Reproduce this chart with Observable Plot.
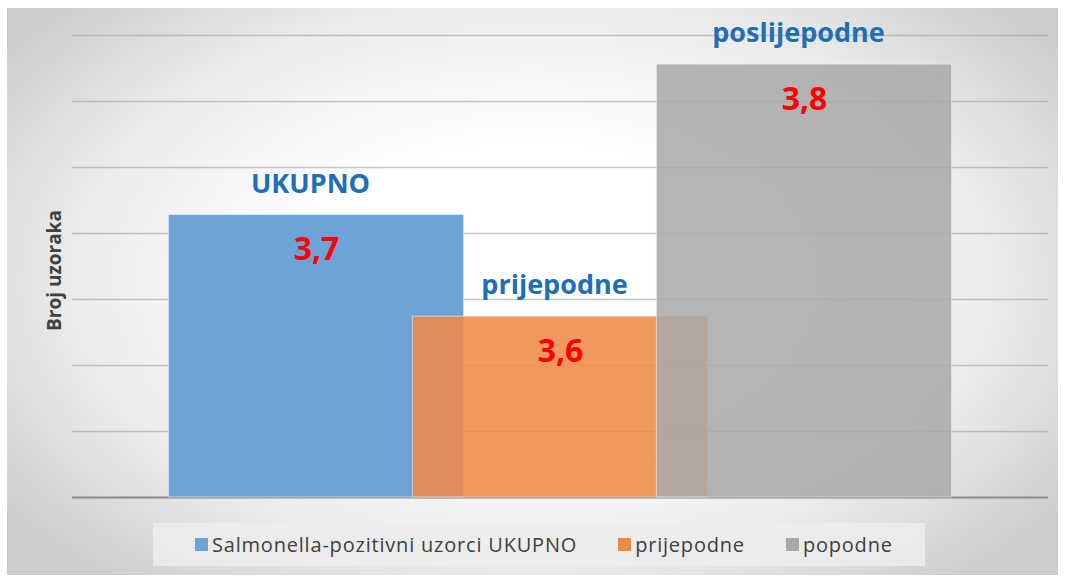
<!DOCTYPE html>
<html>
<head>
<meta charset="utf-8">
<script src="https://cdn.jsdelivr.net/npm/d3@7"></script>
<script src="https://cdn.jsdelivr.net/npm/@observablehq/plot@0.6"></script>
<style>
  html, body { margin: 0; padding: 0; background: #fff; }
  #wrap { position: relative; width: 1065px; height: 579px; overflow: hidden; background: #fff; }
  #box { position: absolute; left: 7px; top: 8px; width: 1051px; height: 567px;
         background: radial-gradient(ellipse 62% 70% at 50% 48%, #ffffff 35%, #ececec 70%, #cdcdcd 100%); }
  #chart { position: absolute; left: 0; top: 0; }
  #legend { position: absolute; left: 146px; top: 515px; width: 772px; height: 43px;
            background: rgba(236,236,236,0.9); display: flex; align-items: center; justify-content: flex-start;
            box-sizing: border-box; padding-left: 42px;
            font-family: "Open Sans", sans-serif; font-size: 20px; letter-spacing: 0.8px; color: #404040; gap: 41px; }
  .item { display: flex; align-items: center; gap: 4px; }
  .sw { width: 13px; height: 13px; display: inline-block; }
</style>
</head>
<body>
<div id="wrap"><div id="box"><div id="chart"></div><div id="legend"></div></div></div>
<script>
const series = ["Salmonella-pozitivni uzorci UKUPNO", "prijepodne", "popodne"];
const categoryLabels = ["UKUPNO", "prijepodne", "poslijepodne"];
const values = [3.664, 3.587, 3.778];
const valueLabels = ["3,7", "3,6", "3,8"];
const colors = ["#6EA3D8", "#EE8A48", "#A8A8A8"];
const opacities = [1, 0.88, 0.85];
const yTicks = [3.45, 3.5, 3.55, 3.6, 3.65, 3.7, 3.75, 3.8];

const yMin = 3.45, yMax = 3.8;
const halfW = 0.605;
const data = values.map((v, i) => ({i, v, s: series[i], cat: categoryLabels[i], lab: valueLabels[i], c: colors[i], o: opacities[i]}));

const chart = Plot.plot({
  width: 1051, height: 500,
  marginLeft: 65, marginRight: 10, marginTop: 27, marginBottom: 11,
  x: {domain: [-1, 3], axis: null},
  y: {domain: [yMin, yMax], axis: null},
  style: {background: "transparent", overflow: "visible"},
  marks: [
    Plot.ruleY(yTicks.slice(1), {stroke: "#9a9a9a", strokeOpacity: 0.55, strokeWidth: 1.5}),
    Plot.ruleY([yMin], {stroke: "#8a8a8a", strokeWidth: 2}),
    ...data.map(d => Plot.rectY([d], {x1: d => d.i - halfW, x2: d => d.i + halfW, y1: yMin, y2: "v",
      fill: d.c, fillOpacity: d.o, stroke: "#f4f4f4", strokeOpacity: 0.6, strokeWidth: 1})),
    Plot.text(data, {x: "i", y: "v", text: "cat", dy: -31, dx: -6, fill: "#1F6FB5", fontSize: 27, fontWeight: "bold",
      fontFamily: "'Open Sans', sans-serif"}),
    Plot.text(data, {x: "i", y: "v", text: "lab", dy: 35, fill: "#FF0000", fontSize: 32, fontWeight: "bold",
      fontFamily: "'Open Sans', sans-serif"}),
    Plot.text(["Broj uzoraka"], {frameAnchor: "left", textAnchor: "middle", text: d => d, rotate: -90, dx: -18, dy: 4,
      fill: "#404040", fontSize: 19, fontWeight: "bold", fontFamily: "'Open Sans', sans-serif",
      letterSpacing: "1.2px"})
  ]
});
document.getElementById("chart").appendChild(chart);

const legend = document.getElementById("legend");
series.forEach((s, i) => {
  const it = document.createElement("div");
  it.className = "item";
  const sw = document.createElement("span");
  sw.className = "sw";
  sw.style.background = colors[i];
  it.appendChild(sw);
  const t = document.createElement("span");
  t.textContent = s;
  it.appendChild(t);
  legend.appendChild(it);
});
</script>
</body>
</html>
